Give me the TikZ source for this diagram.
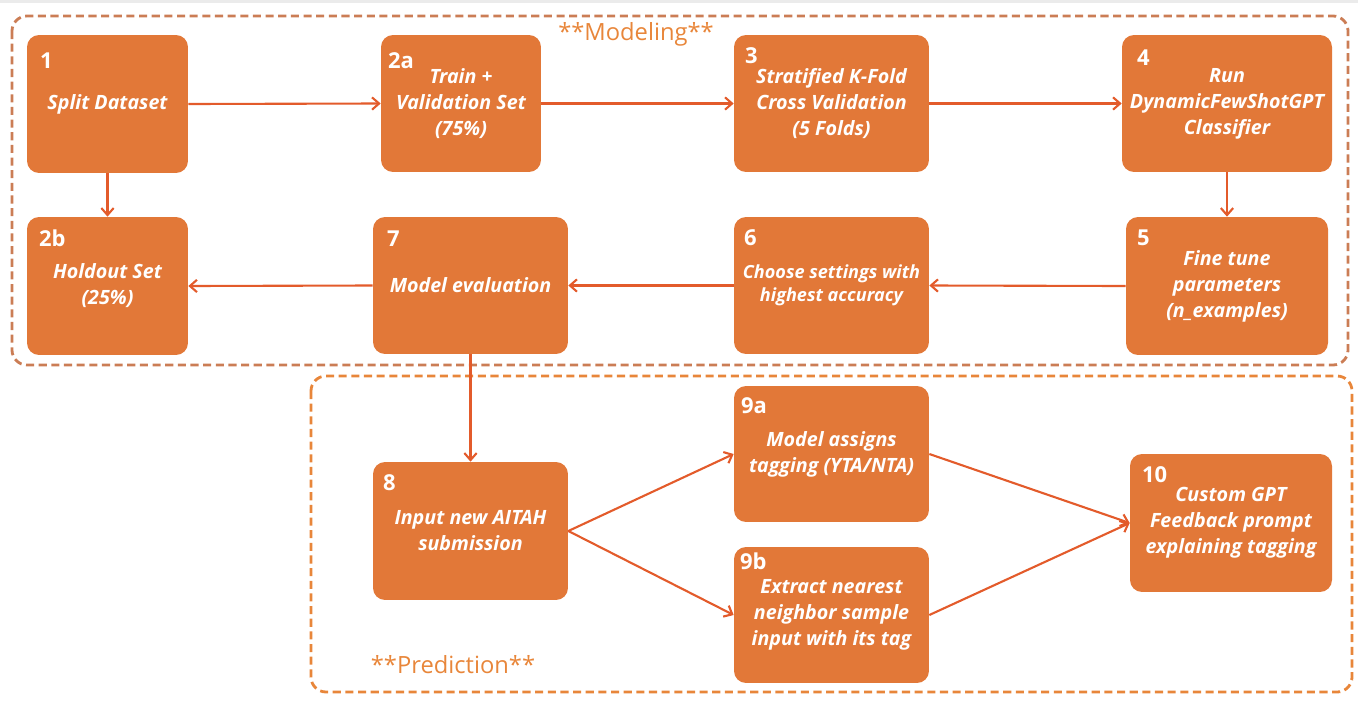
\documentclass[tikz,border=0pt]{standalone}
\usepackage{fontspec}
\setmainfont{Open Sans}
\usetikzlibrary{arrows.meta}
\definecolor{boxorange}{HTML}{E27838}
\definecolor{arroworange}{HTML}{E35B2B}
\definecolor{modframe}{HTML}{CB7D55}
\definecolor{predframe}{HTML}{E8863A}
\tikzset{
  stepbox/.style={rectangle,rounded corners=0.24cm,fill=boxorange,
    text=white,inner sep=0pt,align=center,
    font=\fontsize{11.2}{14.8}\selectfont\bfseries\itshape},
  stepnum/.style 2 args={anchor=north west,inner sep=0pt,text=white,
    font=\fontsize{12.5}{12.5}\selectfont\bfseries,
    xshift=#1*0.02cm,yshift=-#2*0.02cm},
  flow/.style={->,draw=arroworange,line width=1.2pt},
  frame/.style={rounded corners=0.3cm,line width=1.6pt,
    dash pattern=on 4.6pt off 2.6pt},
  framelabel/.style={inner sep=0pt,font=\fontsize{13.5}{13.5}\selectfont}
}
\begin{document}
\begin{tikzpicture}[x=0.02cm,y=-0.02cm,>={Straight Barb[length=4pt,width=7pt]}]
  \useasboundingbox (0,0) rectangle (1358,700);
  \fill[black!8] (0,0) rectangle (1358,3);
  % frames
  \draw[frame,draw=modframe] (12,16) rectangle (1348,365);
  \draw[frame,draw=predframe] (311,376) rectangle (1352,692);
  \node[framelabel,text=predframe] (modlabel) at (636,34) {**Modeling**};
  \node[framelabel,text=predframe] (predlabel) at (453,665) {**Prediction**};
  % top row
  \node[stepbox,minimum width=3.22cm,minimum height=2.76cm,
    label={[stepnum={13}{18}]north west:1}] (s1) at (107.5,104) {Split Dataset};
  \node[stepbox,minimum width=3.2cm,minimum height=2.74cm,
    label={[stepnum={7}{18}]north west:2a}] (s2a) at (461,103.5)
    {Train +\\Validation Set\\(75\%)};
  \node[stepbox,minimum width=3.9cm,minimum height=2.74cm,
    label={[stepnum={11}{13}]north west:3}] (s3) at (831.5,103.5)
    {Stratified K-Fold\\Cross Validation\\(5 Folds)};
  \node[stepbox,minimum width=4.2cm,minimum height=2.74cm,
    label={[stepnum={15}{15}]north west:4}] (s4) at (1227,103.5)
    {Run\\DynamicFewShotGPT\\Classifier};
  % second row
  \node[stepbox,minimum width=3.22cm,minimum height=2.76cm,
    label={[stepnum={12}{13}]north west:2b}] (s2b) at (107.5,286)
    {Holdout Set\\(25\%)};
  \node[stepbox,minimum width=3.9cm,minimum height=2.74cm,
    label={[stepnum={14}{14}]north west:7}] (s7) at (470.5,285.5) {Model evaluation};
  \node[stepbox,minimum width=3.9cm,minimum height=2.74cm,
    font=\fontsize{10.3}{13.2}\selectfont\bfseries\itshape,
    label={[stepnum={10}{13}]north west:6}] (s6) at (831.5,285.5)
    {Choose settings with\\highest accuracy};
  \node[stepbox,minimum width=4.04cm,minimum height=2.76cm,
    label={[stepnum={11}{13}]north west:5}] (s5) at (1227,286)
    {Fine tune\\parameters\\(n\_examples)};
  % prediction
  \node[stepbox,minimum width=3.9cm,minimum height=2.76cm,
    label={[stepnum={10}{13}]north west:8}] (s8) at (470.5,531)
    {Input new AITAH\\submission};
  \node[stepbox,minimum width=3.9cm,minimum height=2.72cm,
    label={[stepnum={7}{12}]north west:9a}] (s9a) at (831.5,454)
    {Model assigns\\tagging (YTA/NTA)};
  \node[stepbox,minimum width=3.9cm,minimum height=2.72cm,
    label={[stepnum={6}{6}]north west:9b}] (s9b) at (831.5,615)
    {Extract nearest\\neighbor sample\\input with its tag};
  \node[stepbox,minimum width=4.04cm,minimum height=2.76cm,
    label={[stepnum={12}{13}]north west:10}] (s10) at (1231,523)
    {Custom GPT\\Feedback prompt\\explaining tagging};
  % connectors
  \draw[flow] (s1.east) -- (s2a.west);
  \draw[flow] (s2a.east) -- (s3.west);
  \draw[flow] (s3.east) -- (s4.west);
  \draw[flow] (s4.south) -- (s5.north);
  \draw[flow] (s1.south) -- (s2b.north);
  \draw[flow] (s5.west) -- (s6.east);
  \draw[flow] (s6.west) -- (s7.east);
  \draw[flow] (s7.west) -- (s2b.east);
  \draw[flow] (s7.south) -- (s8.north);
  \draw[flow] (s8.east) -- (s9a.west);
  \draw[flow] (s8.east) -- (s9b.west);
  \draw[flow] (s9a.east) -- (s10.west);
  \draw[flow] (s9b.east) -- (s10.west);
\end{tikzpicture}
\end{document}
